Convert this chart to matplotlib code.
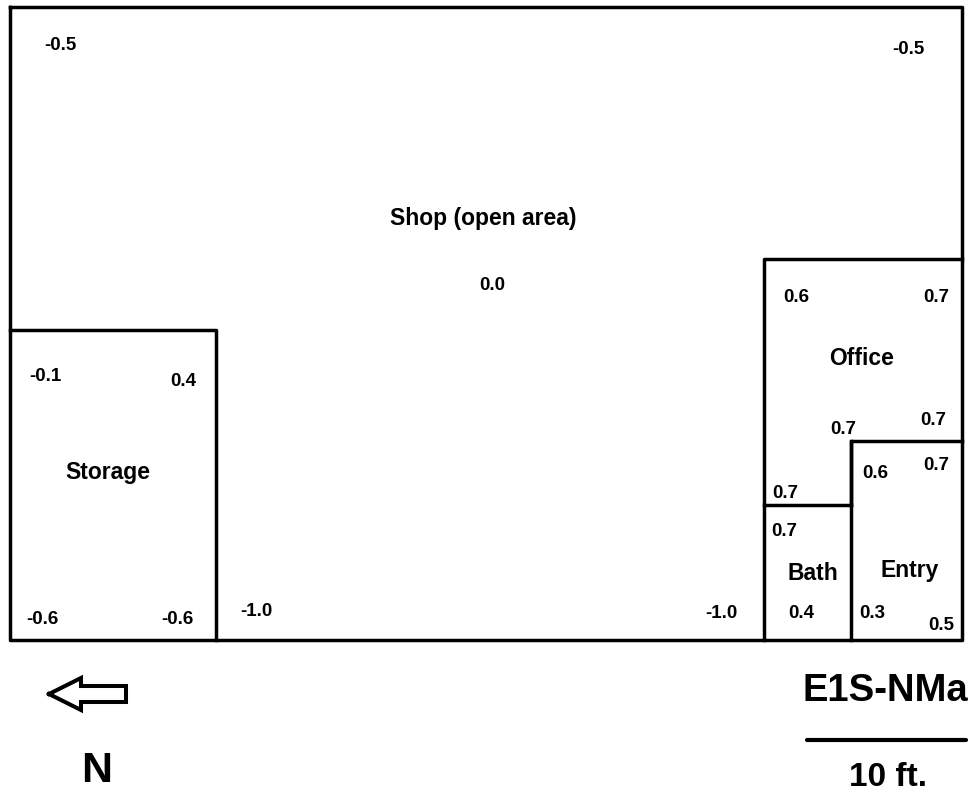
import matplotlib
matplotlib.use("Agg")
import matplotlib.pyplot as plt

plt.rcParams["font.family"] = ["Liberation Sans", "DejaVu Sans"]

# readings, x and y in image pixels
values = ["-0.5", "-0.5", "0.0", "0.6", "0.7", "-0.1", "0.4", "0.7", "0.7", "0.6", "0.7",
          "0.7", "0.7", "-0.6", "-0.6", "-1.0", "-1.0", "0.4", "0.3", "0.5"]
value_x = [60, 908, 492, 796, 936, 45, 183, 843, 933, 875, 936, 785, 784, 42, 177, 256, 721, 801, 872, 941]
value_y = [45, 49, 285, 297, 297, 376, 381, 429, 420, 473, 465, 493, 531, 620, 620, 611, 613, 613, 613, 625]

rooms = ["Shop (open area)", "Office", "Storage", "Entry", "Bath"]
room_x = [483, 862, 108, 910, 813]
room_y = [218, 358, 472, 570, 573]

# walls as x pairs / y pairs
wall_x = [[10, 962, 962, 10, 10], [10, 216, 216], [764, 764, 962], [851, 851, 962], [764, 851], [851, 851]]
wall_y = [[7, 7, 640, 640, 7], [330, 330, 640], [640, 259, 259], [640, 441, 441], [505, 505], [505, 441]]
arrow_x = [49, 81, 81, 126, 126, 81, 81, 49]
arrow_y = [694, 678, 686, 686, 702, 702, 710, 694]

fig = plt.figure(figsize=(9.69, 7.97), dpi=100)
ax = fig.add_axes([0, 0, 1, 1])
ax.set_xlim(0, 969)
ax.set_ylim(797, 0)
ax.axis("off")

for xs, ys in zip(wall_x, wall_y):
    ax.plot(xs, ys, color="black", lw=2.5, solid_capstyle="projecting")
ax.plot(arrow_x, arrow_y, color="black", lw=2.9, solid_joinstyle="miter")
ax.plot([807, 966], [740, 740], color="black", lw=3, solid_capstyle="round")

for v, x, y in zip(values, value_x, value_y):
    ax.text(x, y, v, fontsize=13.5, fontweight="bold", ha="center", va="center")
for r, x, y in zip(rooms, room_x, room_y):
    ax.text(x, y, r, fontsize=16.5, fontweight="bold", ha="center", va="center")

ax.text(885, 691, "E1S-NMa", fontsize=27.5, fontweight="bold", ha="center", va="center")
ax.text(888, 778, "10 ft.", fontsize=24, fontweight="bold", ha="center", va="center")
ax.text(97, 771, "N", fontsize=31, fontweight="bold", ha="center", va="center")

fig.savefig("out.png", dpi=100)
